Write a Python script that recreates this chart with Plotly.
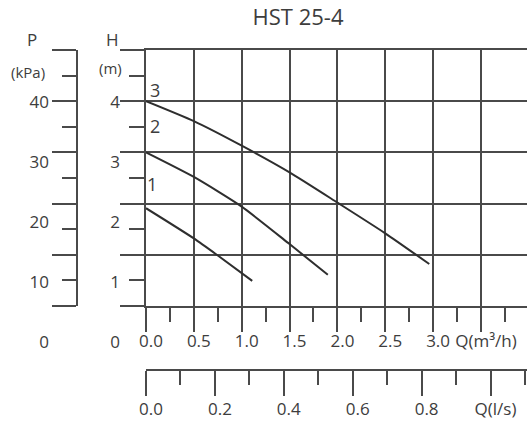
import plotly.graph_objects as go

# ---- data ----
title_text = "HST 25-4"
q_curve3 = [0.0, 0.5, 1.0, 1.5, 2.0, 2.5, 2.96]
h_curve3 = [4.0, 3.61, 3.13, 2.61, 2.02, 1.42, 0.82]
q_curve2 = [0.0, 0.5, 1.0, 1.5, 1.9]
h_curve2 = [3.0, 2.52, 1.94, 1.21, 0.61]
q_curve1 = [0.0, 0.5, 0.74, 1.11]
h_curve1 = [1.91, 1.32, 1.0, 0.49]
curve_names = ["3", "2", "1"]

q_m3h_ticks = [0.0, 0.5, 1.0, 1.5, 2.0, 2.5, 3.0, 3.5]
q_m3h_labels = ["0.0", "0.5", "1.0", "1.5", "2.0", "2.5", "3.0", "Q(m³/h)"]
q_ls_ticks = [0.0, 0.2, 0.4, 0.6, 0.8, 1.0]
q_ls_labels = ["0.0", "0.2", "0.4", "0.6", "0.8", "Q(l/s)"]
h_label_vals = [0, 1, 2, 3, 4]
h_label_text = ["0", "1", "2", "3", "4"]
p_label_vals = [0, 10, 20, 30, 40]
p_label_text = ["0", "10", "20", "30", "40"]

W, H = 527, 421
FONT = "Open Sans"
TXT = "#3d3d3d"
LN = "#4a4a4a"

def px_x(p):
    return p / W

def px_y(p):
    return 1 - p / H

x_dom = [px_x(146), 1.0]
y_dom = [px_y(306), px_y(50)]
lab_dom = [px_y(360), px_y(50)]
x_max = (527 - 146) / 95.7

fig = go.Figure()
curve_style = dict(color="#2e2e2e", width=2, shape="spline", smoothing=0.6)
for qs, hs, nm in [(q_curve3, h_curve3, curve_names[0]),
                   (q_curve2, h_curve2, curve_names[1]),
                   (q_curve1, h_curve1, curve_names[2])]:
    fig.add_trace(go.Scatter(x=qs, y=hs, mode="lines", line=curve_style,
                             name=nm, showlegend=False, hoverinfo="skip"))

# dummy traces to register auxiliary axes
dummy = dict(mode="markers", marker=dict(opacity=0), showlegend=False, hoverinfo="skip")
fig.add_trace(go.Scatter(x=[0], y=[0], xaxis="x2", yaxis="y", **dummy))
fig.add_trace(go.Scatter(x=[0], y=[0], xaxis="x3", yaxis="y2", **dummy))
fig.add_trace(go.Scatter(x=[0], y=[0], xaxis="x3", yaxis="y3", **dummy))
fig.add_trace(go.Scatter(x=[0], y=[0], xaxis="x3", yaxis="y4", **dummy))

tickfont = dict(family=FONT, size=17, color=TXT)

fig.update_layout(
    width=W, height=H,
    margin=dict(l=0, r=0, t=0, b=0, autoexpand=False),
    paper_bgcolor="white", plot_bgcolor="rgba(0,0,0,0)",
    showlegend=False,
    title=dict(text=title_text, x=px_x(298), xanchor="center", y=px_y(17), yanchor="middle",
               font=dict(family=FONT, size=22, color=TXT)),
    xaxis=dict(domain=x_dom, range=[0, x_max], anchor="y", automargin=False,
               showgrid=True, gridcolor=LN, gridwidth=2, zeroline=False,
               showline=True, mirror=True, linecolor=LN, linewidth=2,
               tickmode="array", tickvals=q_m3h_ticks, ticktext=q_m3h_labels,
               ticks="outside", ticklen=24, tickwidth=2, tickcolor=LN,
               minor=dict(tickmode="linear", tick0=0, dtick=0.25, ticks="outside",
                          ticklen=14, tickwidth=2, tickcolor=LN, showgrid=False),
               tickfont=tickfont, ticklabelshift=5, ticklabelstandoff=-5,
               fixedrange=True),
    yaxis=dict(domain=y_dom, range=[0, 5], anchor="x", automargin=False,
               showgrid=True, gridcolor=LN, gridwidth=2, zeroline=False,
               showline=True, linecolor=LN, linewidth=2,
               tickmode="linear", tick0=0, dtick=1,
               ticks="outside", ticklen=24, tickwidth=2, tickcolor=LN,
               minor=dict(tickmode="linear", tick0=0, dtick=0.5, ticks="outside",
                          ticklen=15, tickwidth=2, tickcolor=LN, showgrid=False),
               showticklabels=False, fixedrange=True),
    xaxis2=dict(domain=x_dom, range=[0, x_max / 3.6], anchor="free", position=px_y(370),
                overlaying="x", automargin=False, showgrid=False, zeroline=False,
                showline=True, linecolor=LN, linewidth=2,
                tickmode="array", tickvals=q_ls_ticks, ticktext=q_ls_labels,
                ticks="outside", ticklen=25, tickwidth=2, tickcolor=LN,
                minor=dict(tickmode="linear", tick0=0, dtick=0.1, ticks="outside",
                           ticklen=14, tickwidth=2, tickcolor=LN, showgrid=False),
                tickfont=tickfont, ticklabelshift=5, ticklabelstandoff=-1,
                fixedrange=True),
    xaxis3=dict(domain=[0, 1], range=[0, 1], visible=False, anchor="y2", automargin=False),
    yaxis2=dict(domain=lab_dom, range=[-0.298, 4.867], anchor="free", position=px_x(146),
                automargin=False, showgrid=False, zeroline=False, showline=False, ticks="",
                tickmode="array", tickvals=h_label_vals, ticktext=h_label_text,
                tickfont=tickfont, ticklabelstandoff=26, fixedrange=True),
    yaxis3=dict(domain=y_dom, range=[0, 50], anchor="free", position=px_x(77),
                automargin=False, showgrid=False, zeroline=False,
                showline=True, linecolor=LN, linewidth=2,
                tickmode="linear", tick0=0, dtick=10,
                ticks="outside", ticklen=24, tickwidth=2, tickcolor=LN,
                minor=dict(tickmode="linear", tick0=0, dtick=5, ticks="outside",
                           ticklen=14, tickwidth=2, tickcolor=LN, showgrid=False),
                showticklabels=False, fixedrange=True),
    yaxis4=dict(domain=lab_dom, range=[-2.98, 48.67], anchor="free", position=px_x(77),
                automargin=False, showgrid=False, zeroline=False, showline=False, ticks="",
                tickmode="array", tickvals=p_label_vals, ticktext=p_label_text,
                tickfont=tickfont, ticklabelstandoff=28, fixedrange=True),
)

ann_font = dict(family=FONT, size=17, color=TXT)
annotations = [
    dict(text="P", x=px_x(32), y=px_y(40)),
    dict(text="(kPa)", x=px_x(28), y=px_y(72), size=15),
    dict(text="H", x=px_x(112), y=px_y(40)),
    dict(text="(m)", x=px_x(110), y=px_y(68), size=15),
]
for a in annotations:
    f = dict(ann_font)
    if "size" in a:
        f["size"] = a.pop("size")
    fig.add_annotation(xref="paper", yref="paper", xanchor="center", yanchor="middle",
                       showarrow=False, font=f, **a)

# curve number labels placed near curve starts (data coords)
for nm, qx, hy in [(curve_names[0], 0.094, 4.22), (curve_names[1], 0.094, 3.52), (curve_names[2], 0.063, 2.38)]:
    fig.add_annotation(xref="x", yref="y", x=qx, y=hy, text=nm, showarrow=False,
                       xanchor="center", yanchor="middle",
                       font=dict(family=FONT, size=18, color=TXT))

fig.write_html("out.html", config={"displayModeBar": False},
               post_script="document.body.style.margin='0';document.body.style.overflow='hidden';")
